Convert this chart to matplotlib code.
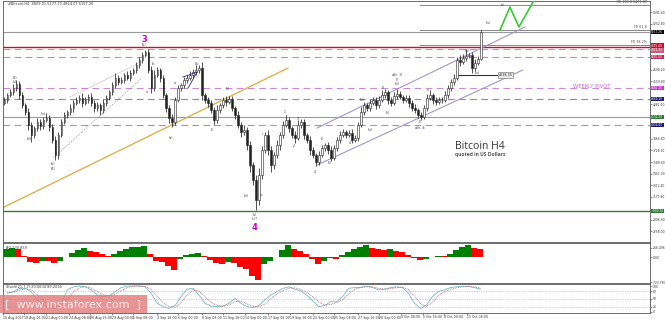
import numpy as np
import matplotlib.pyplot as plt
import matplotlib.transforms as mtransforms
from matplotlib.patches import Rectangle

# === DADOS: candles H4 (agrupados, 1 vela = ~8h) ===
first_open = 4301
closes = [
    4337, 4397, 4433, 4481, 4530, 4397, 4276, 4192, 4036, 3915,
    3999, 4072, 4023, 4096, 4120, 4011, 3855, 3674, 3915, 4072,
    4156, 4192, 4240, 4301, 4337, 4361, 4301, 4337, 4373, 4301,
    4240, 4276, 4216, 4301, 4361, 4433, 4517, 4602, 4554, 4578,
    4638, 4602, 4662, 4698, 4758, 4819, 4879, 4915, 4698, 4481,
    4638, 4698, 4602, 4397, 4240, 4120, 4072, 4337, 4481, 4517,
    4578, 4602, 4638, 4674, 4698, 4722, 4397, 4337, 4301, 4216,
    4096, 4216, 4276, 4337, 4313, 4349, 4240, 4156, 4036, 3951,
    3975, 3794, 3553, 3373, 3132, 3433, 3734, 3915, 3734, 3553,
    3674, 3794, 3915, 4036, 4096, 3999, 3915, 3879, 4036, 4072,
    3915, 3855, 3734, 3674, 3590, 3674, 3758, 3794, 3734, 3638,
    3758, 3855, 3915, 3951, 3915, 3939, 3855, 3879, 4036, 4192,
    4276, 4240, 4301, 4337, 4276, 4337, 4397, 4433, 4337, 4301,
    4385, 4409, 4373, 4337, 4361, 4301, 4240, 4216, 4156, 4132,
    4240, 4361, 4397, 4337, 4313, 4337, 4337, 4397, 4481, 4554,
    4602, 4819, 4795, 4843, 4867, 4879, 4722, 4783, 4829.01, 5157.26,
]
up_wick = [
    40, 30, 40, 50, 50, 30, 40, 30, 50, 40,
    30, 50, 40, 30, 60, 30, 40, 50, 40, 30,
    40, 30, 50, 30, 40, 30, 60, 30, 40, 50,
    30, 40, 30, 50, 40, 30, 40, 60, 30, 40,
    30, 50, 40, 30, 40, 30, 40, 30, 40, 50,
    60, 40, 30, 40, 30, 40, 50, 30, 40, 30,
    40, 30, 50, 40, 60, 40, 70, 30, 40, 30,
    40, 60, 30, 40, 50, 30, 40, 30, 50, 40,
    60, 40, 50, 40, 60, 80, 50, 40, 60, 50,
    40, 60, 40, 50, 60, 40, 30, 50, 60, 40,
    40, 30, 50, 40, 30, 50, 40, 30, 40, 50,
    40, 30, 50, 40, 30, 40, 50, 30, 40, 60,
    40, 30, 50, 40, 30, 50, 60, 40, 30, 40,
    50, 60, 40, 30, 40, 30, 40, 50, 30, 40,
    40, 50, 60, 30, 40, 30, 40, 50, 40, 30,
    50, 40, 60, 50, 80, 30, 40, 50, 40, 20.47,
]
dn_wick = [
    30, 40, 30, 40, 30, 50, 40, 30, 60, 90,
    40, 30, 50, 40, 30, 50, 40, 60, 50, 30,
    30, 40, 30, 50, 30, 40, 50, 30, 40, 40,
    50, 30, 60, 30, 40, 30, 40, 30, 40, 30,
    40, 30, 40, 30, 40, 30, 40, 30, 40, 60,
    40, 30, 50, 40, 50, 60, 60, 40, 30, 40,
    30, 40, 30, 40, 30, 40, 60, 40, 50, 40,
    60, 40, 30, 40, 50, 30, 40, 50, 40, 60,
    40, 60, 80, 60, 120, 60, 50, 40, 60, 80,
    50, 40, 60, 40, 30, 50, 40, 60, 30, 40,
    50, 40, 60, 40, 50, 40, 30, 40, 50, 40,
    30, 40, 40, 30, 40, 30, 40, 30, 40, 30,
    40, 30, 40, 30, 50, 40, 30, 40, 50, 40,
    30, 40, 30, 40, 30, 50, 40, 30, 40, 40,
    30, 40, 30, 50, 40, 30, 40, 30, 40, 30,
    40, 30, 50, 30, 40, 30, 60, 40, 30, 4.94,
]

# AO e Stochastic (1 valor a cada 2 velas)
ao_vals = [
    230, 250, 240, 30, -150, -170, -100, -120, -180, -120,
    10, 120, 200, 260, 160, 140, 90, 20, 80, 180,
    240, 280, 300, 320, 100, -100, -150, -250, -370, -50,
    60, 100, 120, 20, -80, -180, -200, -150, -180, -280,
    -350, -550, -650, -200, -100, 10, 200, 330, 220, 180,
    100, -50, -200, -100, -30, -50, 50, 150, 220, 300,
    330, 250, 220, 200, 220, 180, 150, 50, -30, -80,
    -50, 10, 30, 20, 100, 200, 300, 330, 250, 240,
]
stoch_main = [
    72, 78, 91, 91, 76, 46, 26, 16, 12, 33,
    85, 97, 100, 97, 85, 65, 59, 63, 78, 94,
    100, 100, 100, 97, 72, 33, 20, 13, 24, 59,
    88, 91, 65, 33, 22, 20, 22, 33, 52, 33,
    20, 16, 24, 46, 65, 78, 91, 97, 88, 81,
    65, 42, 20, 24, 39, 39, 59, 91, 94, 95,
    100, 94, 85, 88, 94, 97, 94, 72, 33, 13,
    26, 59, 78, 85, 94, 97, 99, 99, 94, 88,
]
stoch_signal = [
    75, 76, 84, 89, 85, 65, 45, 28, 18, 22,
    50, 78, 93, 98, 92, 78, 66, 62, 68, 82,
    94, 99, 100, 99, 87, 60, 36, 20, 18, 35,
    65, 85, 80, 58, 36, 25, 21, 26, 38, 42,
    30, 21, 19, 30, 50, 68, 82, 92, 93, 87,
    76, 58, 38, 26, 28, 36, 46, 70, 88, 94,
    97, 97, 91, 88, 90, 94, 96, 86, 60, 32,
    20, 36, 62, 78, 87, 93, 97, 98, 97, 92,
]

date_labels = ["16 Aug 2017", "18 Aug 16:00", "21 Aug 00:00", "24 Aug 08:00", "26 Aug 16:00",
               "29 Aug 00:00", "1 Sep 08:00", "3 Sep 16:00", "6 Sep 00:00", "8 Sep 08:00",
               "11 Sep 16:00", "14 Sep 00:00", "17 Sep 08:00", "19 Sep 16:00", "22 Sep 00:00",
               "25 Sep 08:00", "27 Sep 16:00", "30 Sep 00:00", "3 Oct 08:00", "5 Oct 16:00",
               "8 Oct 00:00", "11 Oct 08:00"]
date_pos = [-1, 6, 13.5, 21, 28, 35.5, 42.5, 50.5, 57.5, 65.5, 72.5,
            80, 87.5, 95, 102.5, 109.5, 117.5, 124.5, 132, 139.5, 146.5, 154]

price_ticks = [2758.0, 2896.6, 3035.2, 3173.8, 3312.4, 3451.0, 3589.6, 3728.2, 3866.8, 4005.4,
               4144.0, 4282.6, 4421.2, 4559.8, 4698.4, 4837.0, 4975.6, 5114.2, 5252.8, 5391.4]

# níveis horizontais
level_prices = [5157.26, 4975.40, 4951.30, 4855.00, 4481.20, 4349.10, 4132.30, 4036.00, 3000.20]
level_colors = ['#9a9a9a', '#c8102e', '#d98a9a', '#c88a9a', '#cc88dd', '#8a8aa8', '#8aa88a', '#9a9aa8', '#2e7d32']
level_styles = ['-', '-', '--', '--', '--', '--', '-', '--', '-']
tag_colors = ['#000000', '#c8102e', '#d05a78', '#c0305a', '#cc33cc', '#1c1c70', '#2e7d32', '#1c1c70', '#2e7d32']
tag_shift = [0, 18, -18, 0, 0, 0, 0, 0, 0]  # etiquetas empilhadas no eixo

# Fibonacci expansion
fe_prices = [5481.5, 5180.2, 4999.5]
fe_texts = ["FE 100.0 5471.87", "FE 61.8", "FE 38.2%"]
fe_start = 138.5

# linhas de tendência (índice da vela, preço)
orange_x, orange_y = [-1.5, 94.5], [3023, 4722]
dot1_x, dot1_y = [16.2, 45.8], [3638, 4601]
dot2_x, dot2_y = [21.8, 45.8], [4373, 4795]
chan_up_x, chan_up_y = [104.2, 173.5], [3999, 5216]
chan_lo_x, chan_lo_y = [104.2, 172.8], [3553, 4698]
tri_x, tri_y = [61.2, 64.2, 59.5], [4481, 4674, 4614]
target_x, target_y = [150.8, 164.2], [4638, 4638]
zig_x, zig_y = [165.2, 168.5, 171.5, 176.2], [5180, 5457, 5216, 5518]

# rótulos de ondas (pixels na figura)
wave_labels = [
    (15, 78, "(3)"), (15, 82, "(v)"), (29, 139, "(iii)"), (43, 114, "(iv)"),
    (53, 164, "(5)"), (53, 169, "(4)"), (144, 45, "(5)"), (147, 92, "a"), (153, 64, "b"),
    (175, 83, "a"), (180, 99, "c"), (171, 138, "(a)"), (197, 64, "(b)"),
    (212, 130, "(i)"), (228, 89, "(ii)"), (252, 166, "(iii)"), (246, 196, "(iv)"), (261, 195, "iv"),
    (255, 215, "(v)"), (255, 219, "(c)?"), (263, 134, "ii"), (285, 112, "1"), (294, 146, "2"),
    (298, 119, "3"), (315, 172, "4"), (322, 139, "(i)"), (330, 163, "(ii)"), (350, 143, "4"),
    (362, 100, "(iii)"), (370, 130, "(iv)"), (383, 88, "(i)"), (388, 113, "(ii)"),
    (397, 80, "(i)"), (397, 84, "(iii)"), (428, 90, "v"), (420, 122, "(i)"), (467, 51, "(iii)"),
    (477, 73, "(iv)"), (488, 23, "(iv)"), (503, 5, "(v)"),
]

W, H = 665, 321
fig = plt.figure(figsize=(W / 100, H / 100), dpi=100)
fig.patch.set_facecolor('white')


def px_axes(y0, y1):
    return fig.add_axes([3 / W, 1 - y1 / H, 647 / W, (y1 - y0) / H])


ax = px_axes(1, 242)
ax2 = px_axes(243, 283)
ax3 = px_axes(284, 313)

xmax = 215.2
for a in (ax, ax2, ax3):
    a.set_xlim(-0.5, xmax)
    a.yaxis.tick_right()
    a.tick_params(axis='y', labelsize=2.2, length=1.2, pad=0.5, width=0.4, colors='#333333')
    a.tick_params(axis='x', length=0)
    for s in a.spines.values():
        s.set_color('#555555')
        s.set_linewidth(0.6)
ax.set_xticks([])
ax2.set_xticks([])

# === candles ===
c = np.array(closes, dtype=float)
o = np.concatenate([[first_open], c[:-1]])
hi = np.maximum(o, c) + np.array(up_wick)
lo = np.minimum(o, c) - np.array(dn_wick)
idx = np.arange(len(c))
ax.vlines(idx, lo, hi, color='#222222', lw=0.55, zorder=3)
bull = c >= o
ax.bar(idx[bull], (c - o)[bull], bottom=o[bull], width=0.65, color='white',
       edgecolor='#222222', lw=0.4, zorder=4)
ax.bar(idx[~bull], (o - c)[~bull], bottom=c[~bull], width=0.65, color='#222222',
       edgecolor='#222222', lw=0.4, zorder=4)

ax.set_ylim(2625.6, 5529.7)
# rótulos do eixo escondidos sob as etiquetas coloridas são omitidos
shown_ticks = [t for t in price_ticks if min(abs(t - p) for p in level_prices) > 60]
ax.set_yticks(shown_ticks)
ax.set_yticklabels([f"{p:.2f}" for p in shown_ticks])

# níveis
blend = mtransforms.blended_transform_factory(ax.transAxes, ax.transData)
for p, col, ls, tc, sh in zip(level_prices, level_colors, level_styles, tag_colors, tag_shift):
    lw = 1.0 if col in ('#c8102e', '#2e7d32') else 0.8
    ax.axhline(p, color=col, ls=ls, lw=lw, dashes=(6, 4) if ls == '--' else (None, None), zorder=2)
    ax.text(1.002, p + sh, f"{p:.2f}", transform=blend, fontsize=2.1, color='white', va='center',
            ha='left', clip_on=False, zorder=10,
            bbox=dict(boxstyle='square,pad=0.12', fc=tc, ec=tc, lw=0))

for p, t in zip(fe_prices, fe_texts):
    ax.plot([fe_start, xmax], [p, p], color='#888888', lw=0.7, zorder=2)
    ax.text(xmax - 1.0, p + 10, t, fontsize=2.4, color='#444444', ha='right', va='bottom')

ax.plot(orange_x, orange_y, color='#e0b050', lw=1.0, zorder=2)
ax.plot(dot1_x, dot1_y, color='#888888', lw=0.6, ls=':', zorder=2)
ax.plot(dot2_x, dot2_y, color='#888888', lw=0.6, ls=':', zorder=2)
ax.plot(chan_up_x, chan_up_y, color='#a496c8', lw=0.8, zorder=2)
ax.plot(chan_lo_x, chan_lo_y, color='#a496c8', lw=0.8, zorder=2)
ax.plot(tri_x[:2], tri_y[:2], color='#2a2a80', lw=0.6, zorder=5)
ax.plot(tri_x[1:], tri_y[1:], color='#2a2a80', lw=0.6, zorder=5)
ax.plot(target_x, target_y, color='#333333', lw=0.8, zorder=2)
ax.text(target_x[1] + 0.6, target_y[0], "4638.35", fontsize=2.4, color='#333333', va='center',
        bbox=dict(boxstyle='square,pad=0.2', fc='#e8e8e8', ec='#666666', lw=0.4))
ax.plot(zig_x, zig_y, color='#33cc33', lw=1.2, zorder=5)

# textos
def ftext(x, y, s, **kw):
    fig.text(x / W, 1 - y / H, s, ha='center', va='center', **kw)

for x, y, s in wave_labels:
    ftext(x, y, s, fontsize=2.3, color='#333355')
ftext(144, 40, "3", fontsize=6, color='#cc00cc', fontweight='bold')
ftext(255, 227, "4", fontsize=6, color='#cc00cc', fontweight='bold')
ftext(397, 75, "alt. 3", fontsize=2.7, color='#2a2a80')
ftext(420, 128, "alt. 4", fontsize=2.7, color='#2a2a80')
ftext(592, 86, "WEEKLY PIVOT", fontsize=3.8, color='#cc66cc')
ftext(480, 147, "Bitcoin H4", fontsize=7.5, color='#333333', family='Open Sans')
ftext(480, 155, "quoted in US Dollars", fontsize=3.6, color='#555555', fontweight='bold',
      family='Open Sans')
fig.text(8 / W, 1 - 4 / H, "#Bitcoin,H4  4829.01 5177.73 4824.07 5157.26", fontsize=2.5,
         color='#333333', va='center', ha='left')

# === AO ===
ao = np.array(ao_vals, dtype=float)
ax_x = np.arange(len(ao)) * 2 + 0.5
ao_cols = ['#008000' if i > 0 and ao[i] >= ao[i - 1] else '#ff0000' for i in range(len(ao))]
ao_cols[0] = '#008000'
ax2.bar(ax_x, ao, width=2.0, color=ao_cols, lw=0)
ax2.set_ylim(-740, 400)
ax2.set_yticks([266.496, 0, -723.78])
ax2.set_yticklabels(["266.496", "0.00", "-723.780"])
ax2.text(0.004, 0.93, "AO 130.859", transform=ax2.transAxes, fontsize=2.5, color='#333333',
         va='top')

# === Stochastic ===
sx = np.arange(len(stoch_main)) * 2 + 0.5
for lv in (20, 50, 80):
    ax3.axhline(lv, color='#aaaaaa', lw=0.5, ls=(0, (1, 1.5)))
ax3.plot(sx, stoch_main, color='#74b7c4', lw=0.6)
ax3.plot(sx, stoch_signal, color='#b86070', lw=0.6, ls=(0, (1, 1)))
ax3.set_ylim(-5, 108)
ax3.set_yticks([0, 20, 50, 80, 100])
ax3.text(0.004, 0.95, "Stoch(21,7,7) 83.0634 80.2016", transform=ax3.transAxes, fontsize=2.5,
         color='#333333', va='top')
ax3.set_xticks(date_pos)
ax3.set_xticklabels(date_labels, fontsize=2.3, ha='left', color='#333333')
ax3.tick_params(axis='x', length=1.2, width=0.4, pad=0.6, colors='#333333')

# marca d'água
fig.patches.append(Rectangle((0, 1 - 313 / H), 147 / W, 18 / H, transform=fig.transFigure,
                             fc='#e07a7a', ec='none', alpha=0.8, zorder=20))
fig.text(73 / W, 1 - 304 / H, "[  www.instaforex.com  ]", fontsize=8, color='#fbeaea',
         ha='center', va='center', zorder=21)

fig.savefig("out.png", dpi=100)
